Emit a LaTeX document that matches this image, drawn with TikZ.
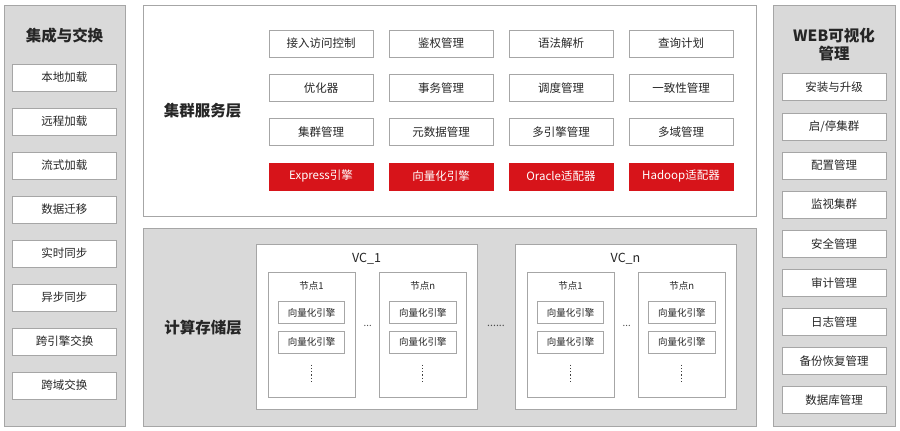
\documentclass[tikz,border=0pt]{standalone}
\usepackage{fontspec}
\setmainfont{Noto Sans CJK SC}
\definecolor{panelgray}{HTML}{D9D9D9}
\definecolor{edgegray}{HTML}{A6A6A6}
\definecolor{engred}{HTML}{D7141A}
\definecolor{inkgray}{HTML}{262626}
\tikzset{
  panel/.style={draw=edgegray, line width=0.9pt, inner sep=0pt},
  item/.style={draw=edgegray, fill=white, line width=0.8pt, inner sep=0pt,
    minimum width=104pt, minimum height=27pt,
    font=\fontsize{11.5}{12}\selectfont, text=inkgray},
  reditem/.style={item, draw=engred, fill=engred, text=white},
  title/.style={font=\fontsize{15.5}{18}\selectfont\bfseries, text=inkgray, align=center},
  vcbox/.style={draw=edgegray, fill=white, line width=0.8pt, inner sep=0pt,
    minimum width=221pt, minimum height=164.5pt},
  nodebox/.style={draw=edgegray, fill=white, line width=0.8pt, inner sep=0pt,
    minimum width=87pt, minimum height=125.3pt},
  engine/.style={draw=edgegray, fill=white, line width=0.8pt, inner sep=0pt,
    minimum width=66.4pt, minimum height=22.4pt,
    font=\fontsize{9.5}{10}\selectfont, text=inkgray},
  smalltxt/.style={font=\fontsize{9.5}{10}\selectfont, text=inkgray, inner sep=0pt},
  dotstxt/.style={font=\fontsize{9.5}{10}\selectfont, text=black!70, inner sep=0pt},
  vdots/.style={black!75, line width=1.1pt, dash pattern=on 1.1pt off 2.2pt}
}

\begin{document}
\begin{tikzpicture}[x=1pt, y=-1pt]
  \useasboundingbox (0,0) rectangle (900,431);
  % panels
  \node[panel, fill=panelgray, minimum width=121pt, minimum height=421pt] (leftp) at (64.5,215.5) {};
  \node[panel, fill=white, minimum width=613pt, minimum height=211pt] (servp) at (449.5,110.5) {};
  \node[panel, fill=panelgray, minimum width=613pt, minimum height=198pt] (compp) at (449.5,327) {};
  \node[panel, fill=panelgray, minimum width=122pt, minimum height=421pt] (rightp) at (834,215.5) {};

  % left column
  \node[title] (lt) at (64.5,36) {集成与交换};
  \foreach \t [count=\i] in {本地加载, 远程加载, 流式加载, 数据迁移, 实时同步, 异步同步, 跨引擎交换, 跨域交换}
    \node[item] (l\i) at (64.5,{77.5+44*(\i-1)}) {\t};

  % right column
  \node[title, font=\fontsize{15.5}{17.5}\selectfont\bfseries] (rt) at (834,44.5) {WEB可视化\\管理};
  \foreach \t [count=\i] in {安装与升级, 启/停集群, 配置管理, 监视集群, 安全管理, 审计管理, 日志管理, 备份恢复管理, 数据库管理}
    \node[item] (r\i) at (834,{87.3+39.1*(\i-1)}) {\t};

  % cluster service layer
  \node[title] (st) at (202.5,111) {集群服务层};
  \foreach \row [count=\r] in {{接入访问控制, 鉴权管理, 语法解析, 查询计划},
                               {优化器, 事务管理, 调度管理, 一致性管理},
                               {集群管理, 元数据管理, 多引擎管理, 多域管理}}
    \foreach \t [count=\c] in \row
      \node[item] (s\r\c) at ({321+120*(\c-1)},{43.5+44.3*(\r-1)}) {\t};
  \foreach \t [count=\c] in {Express引擎, 向量化引擎, Oracle适配器, Hadoop适配器}
    \node[reditem] (x\c) at ({321+120*(\c-1)},176.4) {\t};

  % compute storage layer
  \node[title] (ct) at (203,327.7) {计算存储层};
  \foreach \vx/\vn in {256/1, 515/n} {
    \node[vcbox] (vc\vn) at ({\vx+110.5},326.75) {};
    \node[font=\fontsize{12.5}{13}\selectfont, text=inkgray, inner sep=0pt] (vcl\vn) at ({\vx+110.5},259) {VC\_\vn};
    \foreach \nx/\nn in {12/1, 123.3/n} {
      \node[nodebox] (nd\vn\nn) at ({\vx+\nx+43.5},334.7) {};
      \node[smalltxt] (ndl\vn\nn) at ({\vx+\nx+43.5},286) {节点\nn};
      \node[engine] (e\vn\nn-a) at ({\vx+\nx+43.5},312.5) {向量化引擎};
      \node[engine] (e\vn\nn-b) at ({\vx+\nx+43.5},342.3) {向量化引擎};
      \draw[vdots] ({\vx+\nx+43.5},364.5) -- ({\vx+\nx+43.5},384);
    }
    \node[dotstxt] (dd\vn) at ({\vx+111.7},325.5) {...};
  }
  \node[dotstxt, font=\fontsize{10.5}{11}\selectfont] (ddd) at (496,325.5) {......};
\end{tikzpicture}
\end{document}
